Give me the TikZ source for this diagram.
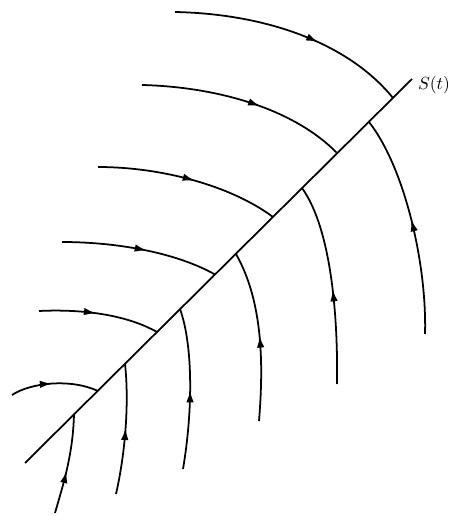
\documentclass[tikz,border=0pt]{standalone}
\usetikzlibrary{arrows.meta,decorations.markings}

\tikzset{
  ray/.style={line width=1pt},
  flow/.style={ray,
    decoration={markings, mark=at position #1 with {\arrow{Latex[length=2.4mm,width=1.5mm]}}},
    postaction={decorate}}
}

\begin{document}
\begin{tikzpicture}[x={0.02cm},y={-0.02cm}]
    \useasboundingbox (0,0) rectangle (449,516);

    % The front S(t)
    \coordinate (lo) at (25,463);
    \coordinate (hi) at (412,79);
    \draw[ray] (lo) -- (hi);
    \node[anchor=west, inner sep=1pt] (front) at (416,85) {$S(t)$};

    % Curves coming in from the left, above the front
    \draw[flow=0.61] (175,12) .. controls (270,14) and (350,45) .. (393,98);
    \draw[flow=0.57] (142,85) .. controls (220,87) and (295,110) .. (337,153);
    \draw[flow=0.53] (98,167) .. controls (160,167) and (230,185) .. (273,217);
    \draw[flow=0.54] (62,242) .. controls (115,242) and (175,252) .. (215,274.5);
    \draw[flow=0.47] (39,311) .. controls (80,309) and (125,314) .. (157,332);
    \draw[flow=0.47] (12,395) .. controls (30,383) and (70,378) .. (98,391);

    % Curves coming up from below, under the front
    \draw[flow=0.52] (425,334) .. controls (427,265) and (405,168) .. (369,122);
    \draw[flow=0.47] (337,384) .. controls (338,320) and (332,230) .. (302,188);
    \draw[flow=0.50] (259,421) .. controls (264,360) and (262,300) .. (236,254);
    \draw[flow=0.49] (183,469) .. controls (193,410) and (193,345) .. (180,309);
    \draw[flow=0.51] (116,494) .. controls (126,450) and (129,400) .. (125,364);
    \draw[flow=0.43] (55,513) .. controls (63,485) and (73,455) .. (74,414);
\end{tikzpicture}
\end{document}
